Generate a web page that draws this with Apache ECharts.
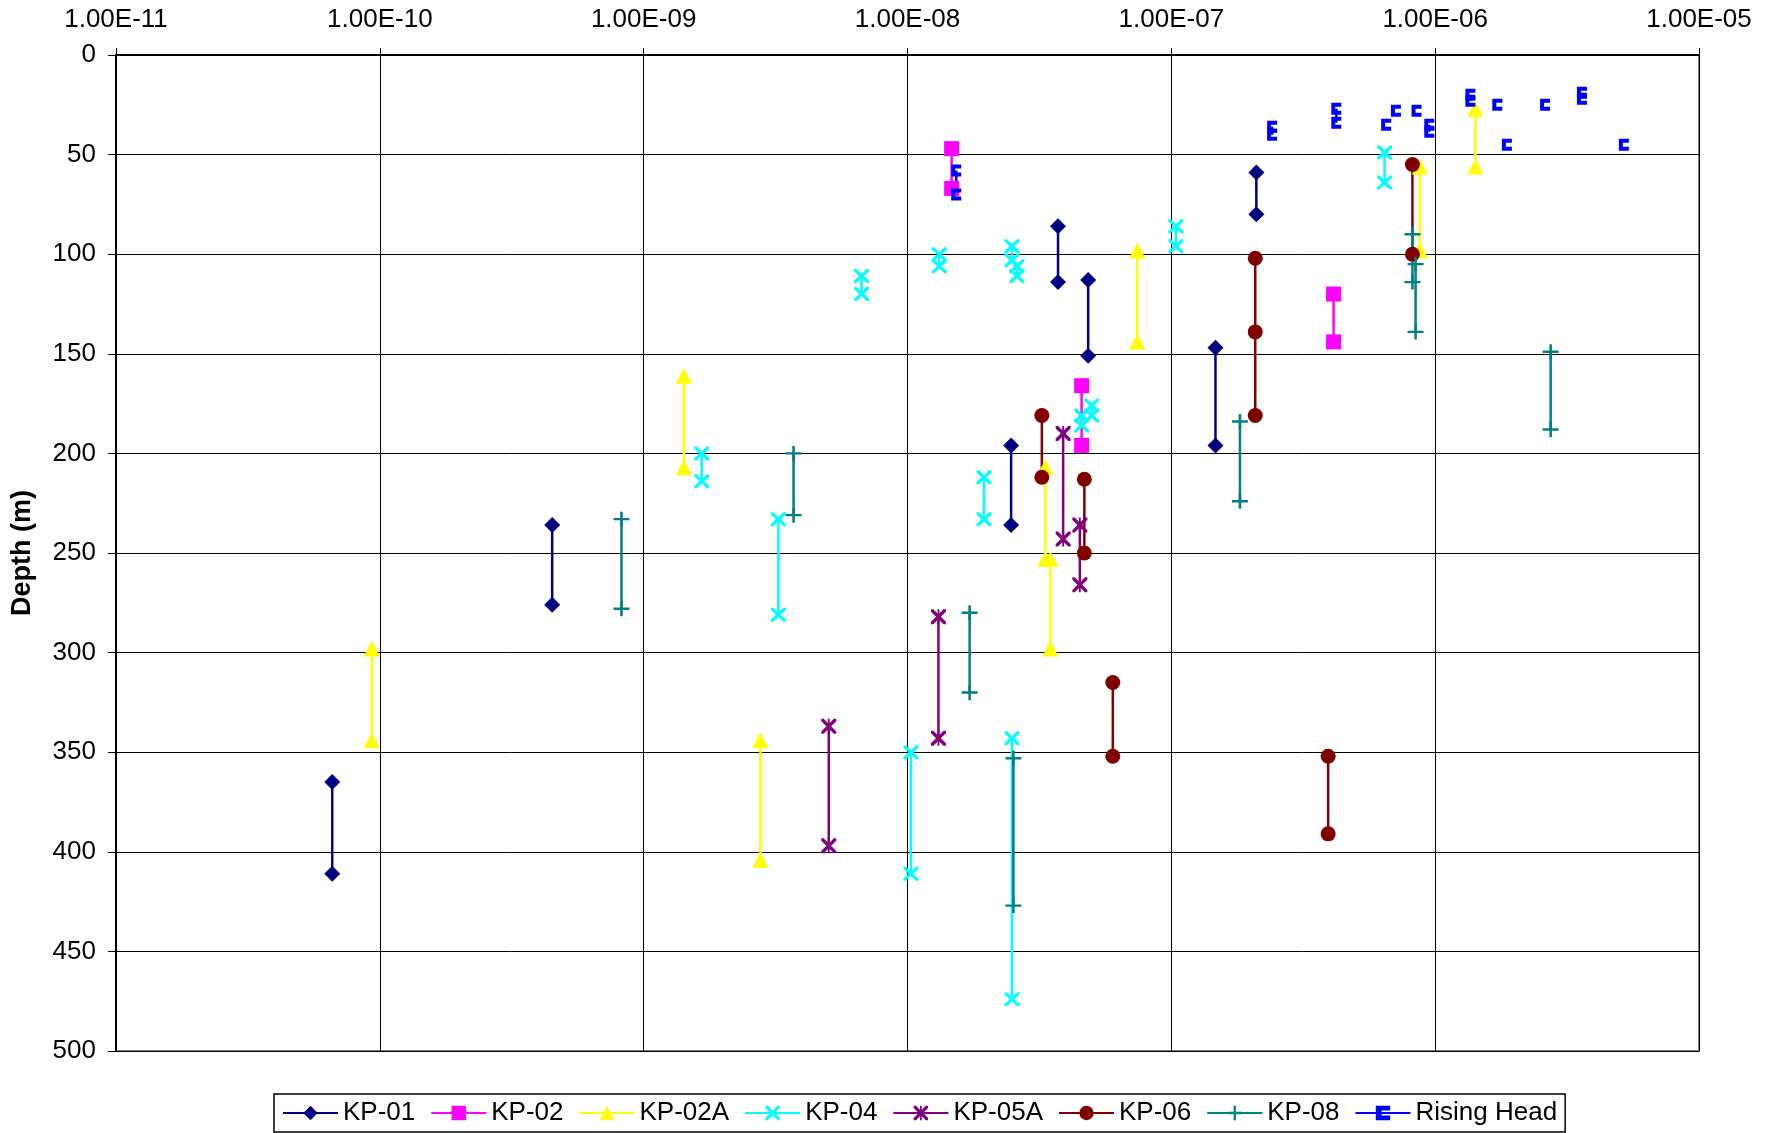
<!DOCTYPE html>
<html>
<head>
<meta charset="utf-8">
<title>Hydraulic conductivity vs depth</title>
<script src="https://cdn.jsdelivr.net/npm/echarts@6/dist/echarts.min.js"></script>
<style>
  html, body { margin: 0; padding: 0; background: #fff; }
  #chart { width: 1777px; height: 1133px; }
</style>
</head>
<body>
<div id="chart"></div>
<script>
// Test intervals: [K (m/s), depth at top of interval, depth at bottom (, ...)]
const kp01 = [
  [6.6e-11, 365, 411],
  [4.5e-10, 236, 276],
  [2.47e-8, 196, 236],
  [3.72e-8, 86, 114],
  [4.84e-8, 113, 151],
  [1.47e-7, 147, 196],
  [2.1e-7, 59, 80]
];
const kp02 = [
  [1.47e-8, 47, 67],
  [4.57e-8, 166, 196],
  [4.12e-7, 120, 144]
];
const kp02a = [
  [9.32e-11, 298, 344],
  [1.42e-9, 161, 207],
  [2.77e-9, 344, 404],
  [3.33e-8, 207, 253],
  [3.48e-8, 253, 298],
  [7.43e-8, 98, 144],
  [8.75e-7, 56, 98],
  [1.42e-6, 27, 56]
];
const kp04 = [
  [1.66e-9, 200, 214],
  [3.24e-9, 233, 281],
  [6.7e-9, 111, 120],
  [1.03e-8, 350, 411],
  [1.32e-8, 100, 106],
  [1.95e-8, 212, 233],
  [2.49e-8, 96, 103],
  [2.6e-8, 106, 111],
  [2.49e-8, 343, 474],
  [4.57e-8, 181, 186],
  [4.99e-8, 176, 181],
  [1.04e-7, 86, 96],
  [6.43e-7, 49, 64]
];
const kp05a = [
  [5.03e-9, 337, 397],
  [1.31e-8, 282, 343],
  [3.89e-8, 190, 243],
  [4.5e-8, 236, 266]
];
const kp06 = [
  [3.23e-8, 181, 212],
  [4.68e-8, 213, 250],
  [6.0e-8, 315, 352],
  [2.08e-7, 102, 139, 181],
  [3.93e-7, 352, 391],
  [8.2e-7, 55, 100]
];
const kp08 = [
  [8.24e-10, 233, 278],
  [3.7e-9, 200, 231],
  [1.72e-8, 280, 320],
  [2.52e-8, 353, 427],
  [1.82e-7, 184, 224],
  [8.2e-7, 90, 114],
  [8.43e-7, 105, 139],
  [2.74e-6, 149, 188]
];
const risingHead = [
  [1.53e-8, 58, 70],
  [2.41e-7, 36, 40],
  [4.22e-7, 27, 34],
  [6.52e-7, 35],
  [7.1e-7, 28],
  [8.5e-7, 28],
  [9.5e-7, 35, 38.5],
  [1.36e-6, 20, 23],
  [1.72e-6, 25],
  [1.87e-6, 45],
  [2.61e-6, 25],
  [3.6e-6, 19, 22],
  [5.19e-6, 45]
];

const xMin = 1e-11, xMax = 1e-5;
const depthTicks = { min: 0, max: 500, interval: 50 };

// Marker outlines (filled paths in a 20x20 box)
const crossPath = 'path://M0,0L3.2,0L10,6.8L16.8,0L20,0L20,3.2L13.2,10L20,16.8L20,20L16.8,20L10,13.2L3.2,20L0,20L0,16.8L6.8,10L0,3.2Z';
const starPath = crossPath + 'M8.8,0L11.2,0L11.2,20L8.8,20Z';
const plusPath = 'path://M8.4,0L11.6,0L11.6,8.4L20,8.4L20,11.6L11.6,11.6L11.6,20L8.4,20L8.4,11.6L0,11.6L0,8.4L8.4,8.4Z';
const bracketPath = 'path://M0,0L10,0L10,4L4,4L4,8L10,8L10,12L0,12Z';

// Each interval becomes a vertical run of points; a gap separates runs.
function toLine(rows) {
  const out = [];
  rows.forEach(function (r) {
    for (let i = 1; i < r.length; i++) out.push([r[0], r[i]]);
    out.push([r[0], '-']);
  });
  return out;
}

const FONT = '"Liberation Sans", Arial, sans-serif';

function mkSeries(name, rows, color, symbol, size) {
  return {
    name: name,
    type: 'line',
    data: toLine(rows),
    connectNulls: false,
    showAllSymbol: true,
    symbol: symbol,
    symbolSize: size,
    lineStyle: { color: color, width: 2.5 },
    itemStyle: { color: color },
    emphasis: { disabled: true },
    animation: false
  };
}

function sciLabel(v) {
  const e = Math.floor(Math.log10(v) + 1e-9);
  const m = v / Math.pow(10, e);
  const sign = e < 0 ? '-' : '+';
  return m.toFixed(2) + 'E' + sign + String(Math.abs(e)).padStart(2, '0');
}

const chart = echarts.init(document.getElementById('chart'), null, { renderer: 'canvas' });
chart.setOption({
  backgroundColor: '#ffffff',
  animation: false,
  textStyle: { fontFamily: FONT },
  grid: {
    left: 116, top: 55, right: 78, bottom: 82,
    show: true, borderColor: '#808080', borderWidth: 2, backgroundColor: 'transparent'
  },
  xAxis: {
    type: 'log',
    logBase: 10,
    position: 'top',
    min: xMin,
    max: xMax,
    splitNumber: 6,
    axisLine: { show: true, lineStyle: { color: '#000', width: 2 } },
    axisTick: { show: true, length: 7, lineStyle: { color: '#000', width: 1 } },
    minorTick: { show: false },
    splitLine: { show: true, lineStyle: { color: '#000', width: 1 } },
    axisLabel: { formatter: sciLabel, color: '#000', fontSize: 26, fontFamily: FONT, margin: 22 }
  },
  yAxis: {
    type: 'value',
    inverse: true,
    min: depthTicks.min,
    max: depthTicks.max,
    interval: depthTicks.interval,
    name: 'Depth (m)',
    nameLocation: 'middle',
    nameGap: 80,
    nameRotate: 90,
    nameTextStyle: { color: '#000', fontSize: 27, fontWeight: 'bold', fontFamily: FONT },
    axisLine: { show: true, lineStyle: { color: '#000', width: 2 } },
    axisTick: { show: true, length: 8, lineStyle: { color: '#000', width: 1 } },
    splitLine: { show: true, lineStyle: { color: '#000', width: 1 } },
    axisLabel: { color: '#000', fontSize: 26, fontFamily: FONT, margin: 20 }
  },
  legend: {
    left: 274,
    top: 1094,
    orient: 'horizontal',
    itemWidth: 55,
    itemHeight: 18,
    itemGap: 15,
    padding: [6, 8],
    borderColor: '#000',
    borderWidth: 1.5,
    backgroundColor: '#fff',
    textStyle: { color: '#000', fontSize: 26, fontFamily: FONT },
    data: ['KP-01', 'KP-02', 'KP-02A', 'KP-04', 'KP-05A', 'KP-06', 'KP-08', 'Rising Head']
  },
  series: [
    mkSeries('KP-01', kp01, '#000080', 'diamond', 16),
    mkSeries('KP-02', kp02, '#FF00FF', 'rect', 15),
    mkSeries('KP-02A', kp02a, '#FFFF00', 'triangle', 16),
    mkSeries('KP-04', kp04, '#00FFFF', crossPath, [15, 14]),
    mkSeries('KP-05A', kp05a, '#800080', starPath, [15, 15]),
    mkSeries('KP-06', kp06, '#800000', 'circle', 15),
    mkSeries('KP-08', kp08, '#008080', plusPath, [16, 15]),
    mkSeries('Rising Head', risingHead, '#0000FF', bracketPath, [10, 12])
  ]
});
</script>
</body>
</html>
